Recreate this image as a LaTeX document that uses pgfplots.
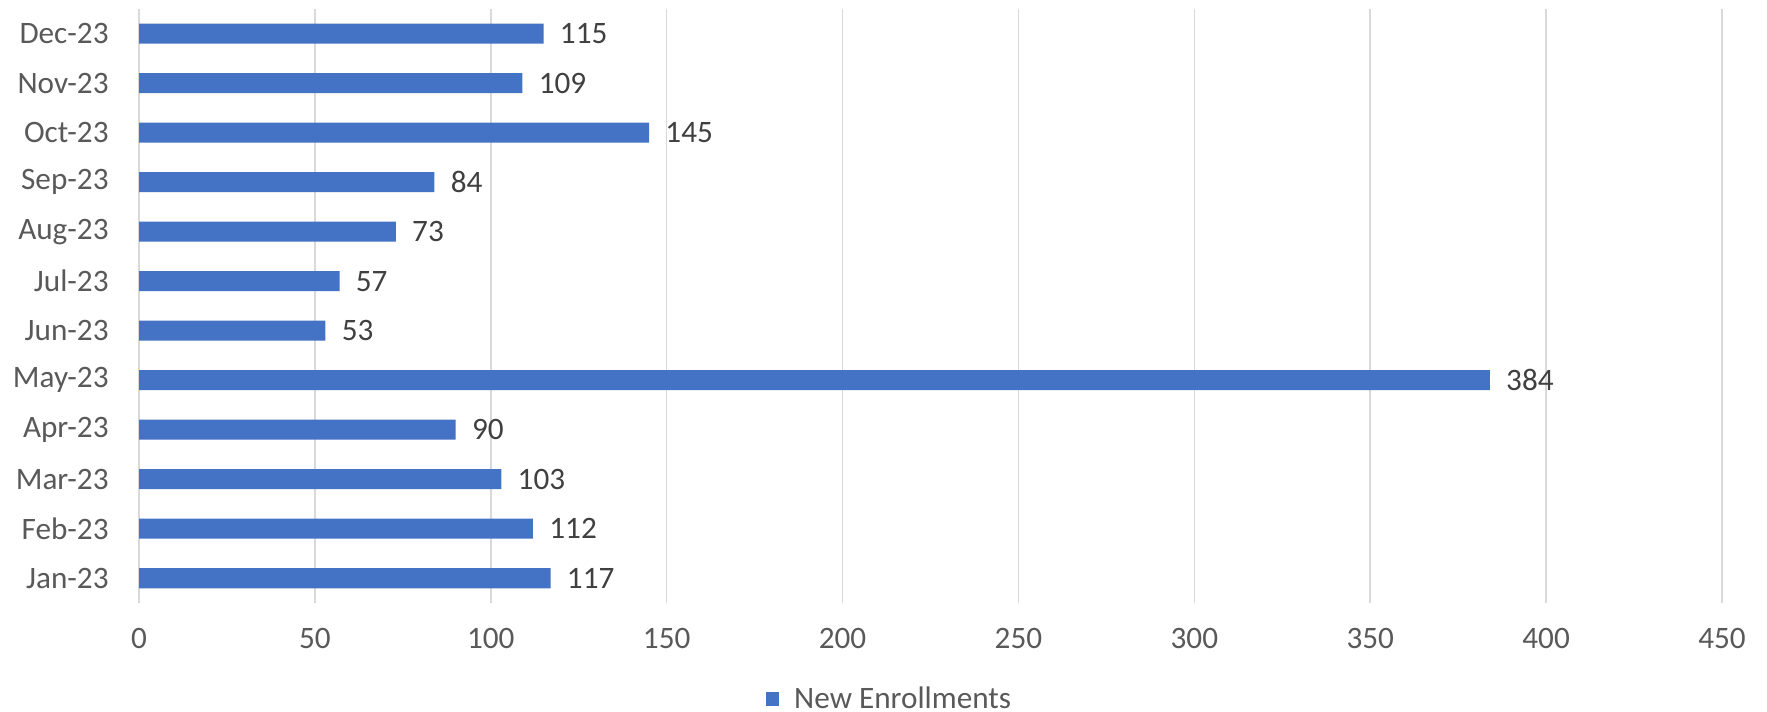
\documentclass[border=0pt]{standalone}
\usepackage{pgfplots}
\pgfplotsset{compat=1.18}
\usepackage{fontspec}
\setmainfont{Carlito}
\definecolor{barblue}{HTML}{4472C4}
\definecolor{gridgray}{HTML}{D9D9D9}
\definecolor{ticktext}{HTML}{595959}
\definecolor{labeltext}{HTML}{404040}
\begin{document}
\begin{tikzpicture}
\path[use as bounding box] (0,0) rectangle (883.5pt,356pt);
\begin{axis}[
  at={(69.5pt,54.5pt)}, anchor=south west,
  scale only axis, width=791.5pt, height=297pt,
  xbar, bar width=10pt,
  xmin=0, xmax=450, ymin=-0.5, ymax=11.5,
  xtick={0,50,...,450},
  ytick={0,...,11},
  yticklabels={Jan-23,Feb-23,Mar-23,Apr-23,May-23,Jun-23,Jul-23,Aug-23,Sep-23,Oct-23,Nov-23,Dec-23},
  axis line style={draw=none},
  major tick length=0pt,
  xmajorgrids, ymajorgrids=false,
  grid style={gridgray, line width=0.75pt},
  tick label style={font=\fontsize{15.6}{18}\selectfont, text=ticktext},
  xticklabel style={anchor=center, inner sep=0pt, yshift=-17.75pt},
  yticklabel style={anchor=east, inner sep=0pt, xshift=-15pt},
  /pgf/number format/assume math mode=true,
  point meta=x,
  nodes near coords,
  every node near coord/.append style={font=\fontsize{15.6}{18}\selectfont, text=labeltext, anchor=west, inner sep=0pt, xshift=8pt},
  legend style={at={(0.474,-0.1616)}, anchor=center, draw=none, inner sep=0pt,
    nodes={inner sep=1pt}, column sep=6.5pt,
    font=\fontsize{15.6}{18}\selectfont, text=ticktext},
  legend image code/.code={\fill[barblue] (0pt,-3.4pt) rectangle (6.8pt,3.4pt);},
]
\addplot[fill=barblue, draw=none] coordinates {
(117,0) (112,1) (103,2) (90,3) (384,4) (53,5) (57,6) (73,7) (84,8) (145,9) (109,10) (115,11)
};
\addlegendentry{New Enrollments}
\end{axis}
\end{tikzpicture}
\end{document}
